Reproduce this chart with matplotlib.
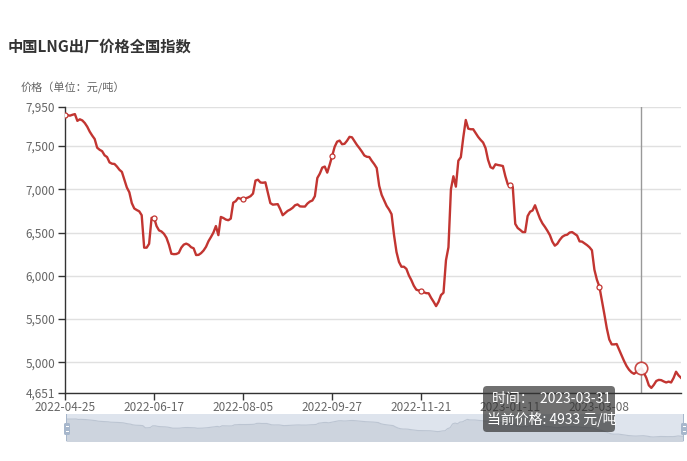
import numpy as np
import matplotlib
matplotlib.use("Agg")
import matplotlib.pyplot as plt
from matplotlib.patches import FancyBboxPatch, Rectangle
from matplotlib.transforms import IdentityTransform

plt.rcParams['font.family'] = ['Noto Sans CJK SC', 'DejaVu Sans']

# --- data ---
title = "中国LNG出厂价格全国指数"
y_name = "价格（单位：元/吨）"
tick_labels = ["2022-04-25", "2022-06-17", "2022-08-05", "2022-09-27",
               "2022-11-21", "2023-01-11", "2023-03-08"]
label_step = 36  # one label every 36 trading days
y_ticks = [4651, 5000, 5500, 6000, 6500, 7000, 7500, 7950]

prices = [
    7858, 7855, 7850, 7860, 7868, 7790, 7808, 7795, 7765, 7722,
    7665, 7620, 7580, 7480, 7456, 7440, 7392, 7372, 7310, 7295,
    7292, 7262, 7225, 7200, 7110, 7020, 6965, 6840, 6778, 6760,
    6745, 6700, 6325, 6325, 6370, 6670, 6670, 6575, 6525, 6512,
    6485, 6440, 6360, 6255, 6250, 6252, 6265, 6325, 6360, 6372,
    6358, 6330, 6318, 6240, 6242, 6262, 6292, 6335, 6400, 6448,
    6500, 6575, 6470, 6680, 6668, 6650, 6642, 6660, 6845, 6862,
    6900, 6890, 6890, 6895, 6905, 6920, 6950, 7100, 7110, 7078,
    7075, 7080, 6960, 6840, 6822, 6825, 6828, 6770, 6700, 6725,
    6750, 6765, 6785, 6815, 6825, 6802, 6800, 6800, 6835, 6858,
    6870, 6920, 7130, 7180, 7250, 7262, 7192, 7285, 7385, 7490,
    7550, 7562, 7520, 7525, 7560, 7605, 7600, 7555, 7512, 7475,
    7435, 7390, 7375, 7372, 7328, 7290, 7245, 7040, 6935, 6870,
    6808, 6765, 6712, 6470, 6275, 6160, 6105, 6105, 6080, 6005,
    5950, 5885, 5840, 5830, 5826, 5810, 5800, 5798, 5745, 5700,
    5650, 5700, 5778, 5805, 6180, 6330, 7000, 7150, 7030, 7330,
    7370, 7600, 7800, 7700, 7693, 7693, 7650, 7605, 7570, 7540,
    7475, 7340, 7255, 7240, 7288, 7280, 7275, 7268, 7150, 7055,
    7045, 7025, 6600, 6552, 6530, 6505, 6505, 6690, 6740, 6755,
    6815, 6735, 6660, 6605, 6565, 6520, 6470, 6395, 6348, 6370,
    6415, 6450, 6468, 6475, 6500, 6505, 6485, 6465, 6398, 6395,
    6375, 6355, 6330, 6295, 6070, 5955, 5876, 5720, 5560, 5395,
    5265, 5208, 5208, 5212, 5145, 5080, 5015, 4958, 4915, 4885,
    4868, 4888, 4912, 4933, 4880, 4820, 4735, 4705, 4740, 4785,
    4798, 4795, 4780, 4768, 4778, 4768, 4820, 4892, 4850, 4822,
]

hover_date = "2023-03-31"
hover_idx = 233

RED = '#c23531'
W, H = 687, 461

fig = plt.figure(figsize=(W / 100, H / 100), dpi=100)
ax = fig.add_axes([65 / W, 1 - 392.6 / H, (681 - 65) / W, (392.6 - 107) / H])

x = np.arange(len(prices))
ax.plot(x, prices, color=RED, lw=1.7, solid_joinstyle='round', zorder=3)
ax.plot(x[::label_step], np.array(prices)[::label_step], 'o', ms=3.6,
        mfc='white', mec=RED, mew=0.9, zorder=4)

ax.set_xlim(0, len(prices) - 1)
ax.set_ylim(y_ticks[0], y_ticks[-1])
ax.set_yticks(y_ticks)
ax.set_yticklabels([f"{v:,}" for v in y_ticks])
ax.set_xticks(x[::label_step])
ax.set_xticklabels(tick_labels)

ax.grid(axis='y', color='#e0e0e0', lw=1)
ax.set_axisbelow(True)
for s in ['top', 'right']:
    ax.spines[s].set_visible(False)
for s in ['left', 'bottom']:
    ax.spines[s].set_color('#333333')
    ax.spines[s].set_linewidth(1)
ax.tick_params(axis='both', length=5, color='#333333', labelcolor='#666666',
               labelsize=8.5, width=1)
ax.tick_params(axis='y', pad=2)
ax.tick_params(axis='x', pad=1)

# hover crosshair + point
ax.axvline(hover_idx, color='#999999', lw=1, zorder=2)
hover_value = prices[hover_idx]
ax.plot(hover_idx, hover_value, 'o', ms=9, mfc='white', mec=RED, mew=1.2,
        alpha=0.9, zorder=5)

fig.text(8 / W, 1 - 47 / H, title, fontsize=11, fontweight='bold',
         color='#333333', va='center', ha='left')
fig.text(21 / W, 1 - 88 / H, y_name, fontsize=8, color='#666666',
         va='center', ha='left')

# data zoom slider
sax = fig.add_axes([66 / W, 1 - 441 / H, (683 - 66) / W, 27 / H])
sax.set_facecolor('#dee4ed')
lo_p, hi_p = min(prices), max(prices)
span = (hi_p - lo_p) * 1.5
sax.set_ylim(lo_p - span * 4 / 27, lo_p - span * 4 / 27 + span)
sax.set_xlim(0, len(prices) - 1)
sax.fill_between(x, prices, lo_p - span, color='#cdd4de', lw=0)
sax.plot(x, prices, color='#bcc5d2', lw=0.8)
sax.set_xticks([])
sax.set_yticks([])
for s in sax.spines.values():
    s.set_visible(False)

ident = IdentityTransform()
fig.add_artist(Rectangle((66, H - 441), 1.2, 27, transform=ident,
                         fc='#a7b7cc', ec='none', zorder=6))
fig.add_artist(Rectangle((682.5, H - 441), 1.2, 27, transform=ident,
                         fc='#a7b7cc', ec='none', zorder=6))
for hx in (64, 681):
    fig.add_artist(FancyBboxPatch((hx, H - 435), 6, 12, transform=ident,
                                  boxstyle="round,pad=0,rounding_size=1.5",
                                  fc='#a7b7cc', ec='none', zorder=7))
    for dy in (3.5, 6, 8.5):
        fig.add_artist(Rectangle((hx + 1.5, H - 435 + dy - 0.4), 3, 0.8,
                                 transform=ident, fc='white', ec='none',
                                 zorder=8))

# tooltip
fig.add_artist(FancyBboxPatch((483, H - 432), 132, 46, transform=ident,
                              boxstyle="round,pad=0,rounding_size=4",
                              fc=(0.2, 0.2, 0.2, 0.7), ec='none', zorder=20))
fig.text(492 / W, 1 - 398.5 / H, f"时间：  {hover_date}", fontsize=10,
         color='white', va='center', ha='left', zorder=21)
fig.text(487 / W, 1 - 419 / H, f"当前价格: {hover_value} 元/吨", fontsize=10,
         color='white', va='center', ha='left', zorder=21)

fig.savefig("out.png", dpi=100)
